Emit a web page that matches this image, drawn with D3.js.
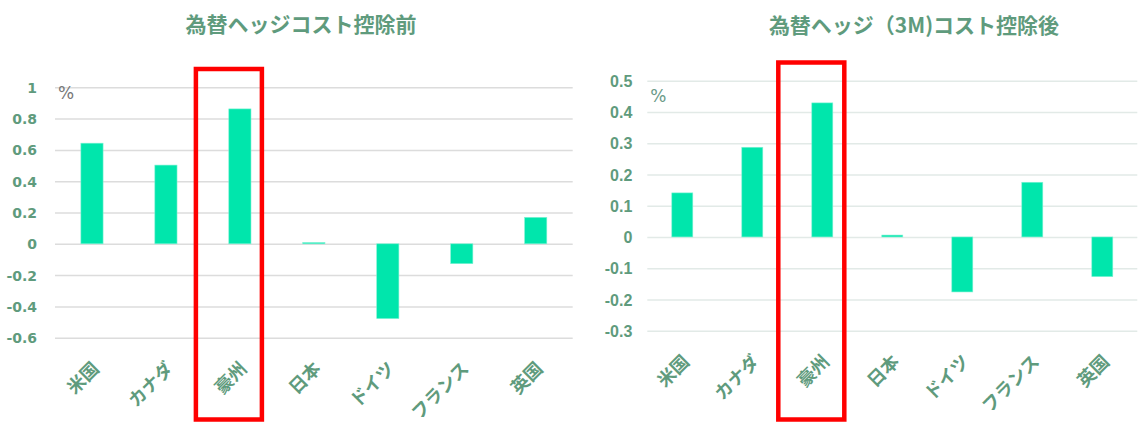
<!DOCTYPE html>
<html>
<head>
<meta charset="utf-8">
<script src="https://cdn.jsdelivr.net/npm/d3@7"></script>
<style>
  body { margin: 0; background: #fff; }
  svg { display: block; }
</style>
</head>
<body>
<div id="chart"></div>
<script>
// data
var categories = ["米国", "カナダ", "豪州", "日本", "ドイツ", "フランス", "英国"];
var beforeHedge = [0.643, 0.503, 0.862, 0.008, -0.478, -0.127, 0.169];
var afterHedge = [0.141, 0.287, 0.429, 0.006, -0.176, 0.175, -0.127];
var beforeTicks = [1, 0.8, 0.6, 0.4, 0.2, 0, -0.2, -0.4, -0.6];
var afterTicks = [0.5, 0.4, 0.3, 0.2, 0.1, 0, -0.1, -0.2, -0.3];
var highlight = "豪州";
var titles = ["為替ヘッジコスト控除前", "為替ヘッジ（3M)コスト控除後"];

var width = 1148, height = 423;
var labelColor = "#5f9b7d";
var barColor = "#00e6ac";

var svg = d3.select("#chart")
  .append("svg")
    .attr("width", width)
    .attr("height", height);

function drawChart(opts) {
  var x = d3.scaleBand()
      .domain(categories)
      .range([opts.left, opts.right])
      .paddingInner(0.7)
      .paddingOuter(0.35);

  var y = d3.scaleLinear()
      .domain([d3.min(opts.ticks), d3.max(opts.ticks)])
      .range([opts.bottom, opts.top]);

  var g = svg.append("g");

  // gridlines
  g.append("g")
      .attr("transform", "translate(" + opts.left + ",0)")
      .call(d3.axisLeft(y).tickValues(opts.ticks).tickSize(-(opts.right - opts.left)).tickFormat(""))
      .call(function(a) { a.select(".domain").remove(); })
      .selectAll("line")
        .attr("stroke", opts.gridColor)
        .attr("stroke-width", 1.5);

  // y labels
  g.append("g")
      .attr("transform", "translate(" + (opts.left - opts.labelGap) + ",0)")
      .call(d3.axisLeft(y).tickValues(opts.ticks).tickSize(0).tickFormat(function(d) { return String(d); }))
      .call(function(a) { a.select(".domain").remove(); })
      .selectAll("text")
        .attr("x", 0)
        .attr("dy", "0.35em")
        .attr("fill", labelColor)
        .style("font-family", opts.tickFont)
        .style("font-size", opts.tickSize)
        .style("font-weight", "bold");

  // bars
  g.selectAll("rect.bar")
      .data(opts.values)
      .enter()
      .append("rect")
        .attr("class", "bar")
        .attr("x", function(d, i) { return x(categories[i]); })
        .attr("width", x.bandwidth())
        .attr("y", function(d) { return y(Math.max(0, d)); })
        .attr("height", function(d) { return Math.abs(y(d) - y(0)); })
        .attr("fill", barColor)
        .attr("stroke", "#7ff2d4")
        .attr("stroke-width", 0.6);

  // % unit
  g.append("text")
      .attr("x", opts.left + 3)
      .attr("y", opts.unitY)
      .attr("fill", opts.unitColor)
      .style("font-family", "DejaVu Sans, sans-serif")
      .style("font-size", "17px")
      .text("%");

  // category labels, rotated
  g.selectAll("text.cat")
      .data(categories)
      .enter()
      .append("text")
        .attr("class", "cat")
        .attr("text-anchor", "end")
        .attr("transform", function(d) {
          return "translate(" + (x(d) + x.bandwidth() / 2 - 2) + "," + (opts.bottom + 22) + ") rotate(-45)";
        })
        .attr("dy", "0.8em")
        .attr("fill", labelColor)
        .style("font-family", "Noto Sans CJK JP, sans-serif")
        .style("font-size", "18px")
        .style("font-weight", "bold")
        .text(function(d) { return d; });

  // title
  g.append("text")
      .attr("x", opts.titleX)
      .attr("y", opts.titleY)
      .attr("text-anchor", "middle")
      .attr("fill", labelColor)
      .style("font-family", "Noto Sans CJK JP, sans-serif")
      .style("font-size", "21px")
      .style("font-weight", "bold")
      .text(opts.title);

  // red highlight box
  var cx = x(highlight) + x.bandwidth() / 2;
  g.append("rect")
      .attr("x", cx - 44)
      .attr("y", opts.boxTop)
      .attr("width", 66)
      .attr("height", 419.5 - opts.boxTop)
      .attr("fill", "none")
      .attr("stroke", "#ff0000")
      .attr("stroke-width", 4.5);
}

drawChart({
  values: beforeHedge, ticks: beforeTicks, title: titles[0],
  left: 55, right: 572.7, top: 87.3, bottom: 337.7,
  gridColor: "#dcdcdc", labelGap: 18,
  tickFont: "DejaVu Sans, sans-serif", tickSize: "14px",
  unitY: 99, unitColor: "#777777",
  titleX: 301, titleY: 32, boxTop: 69
});

drawChart({
  values: afterHedge, ticks: afterTicks, title: titles[1],
  left: 647.3, right: 1137.3, top: 80.7, bottom: 330.7,
  gridColor: "#e2eae7", labelGap: 15,
  tickFont: "Liberation Sans, Arial, sans-serif", tickSize: "16px",
  unitY: 102, unitColor: "#6a9a88",
  titleX: 914, titleY: 33, boxTop: 62.5
});
</script>
</body>
</html>
